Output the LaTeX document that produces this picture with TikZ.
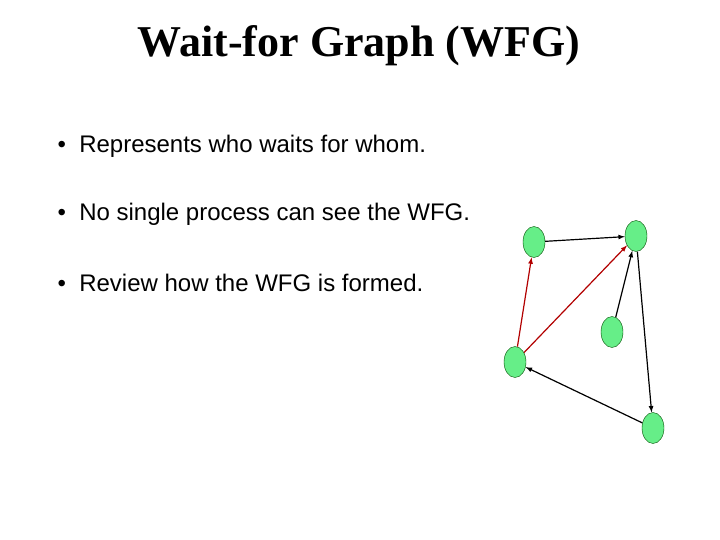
\documentclass[tikz,border=0pt]{standalone}
\usepackage{fontspec}
\setmainfont{Liberation Sans}
\newfontfamily\titlefont{Liberation Serif}
\usetikzlibrary{shapes.geometric}
\definecolor{procgreen}{RGB}{102,238,136}

\begin{document}
\begin{tikzpicture}[x=1pt,y=-1pt]
    \tikzstyle{process}   = [ellipse,draw=black!70!green,fill=procgreen,
                             minimum width=22pt,minimum height=31pt,inner sep=0pt]
    \tikzstyle{wait}      = [-latex,black,line width=1.2pt]
    \tikzstyle{red wait}  = [-latex,red!70!black,line width=1.2pt]
    \tikzstyle{bullet}    = [anchor=west,font=\fontsize{24}{28}\selectfont]

    \useasboundingbox (0,0) rectangle (720,540);

    \node[font=\titlefont\bfseries\fontsize{44}{50}\selectfont] (title) at (359,46) {Wait-for Graph (WFG)};
    \node[bullet] (b1) at (54,146) {\textbullet\ \ Represents who waits for whom.};
    \node[bullet] (b2) at (54,214) {\textbullet\ \ No single process can see the WFG.};
    \node[bullet] (b3) at (54,283) {\textbullet\ \ Review how the WFG is formed.};

    \node[process] (p1) at (534,242) {};
    \node[process] (p2) at (636,236) {};
    \node[process] (p3) at (612,332) {};
    \node[process] (p4) at (515,362) {};
    \node[process] (p5) at (653,428) {};

    \draw[wait]     (p1)--(p2);
    \draw[wait]     (p3)--(p2);
    \draw[wait]     (p2)--(p5);
    \draw[wait]     (p5)--(p4);
    \draw[red wait] (p4)--(p1);
    \draw[red wait] (p4)--(p2);
\end{tikzpicture}
\end{document}
